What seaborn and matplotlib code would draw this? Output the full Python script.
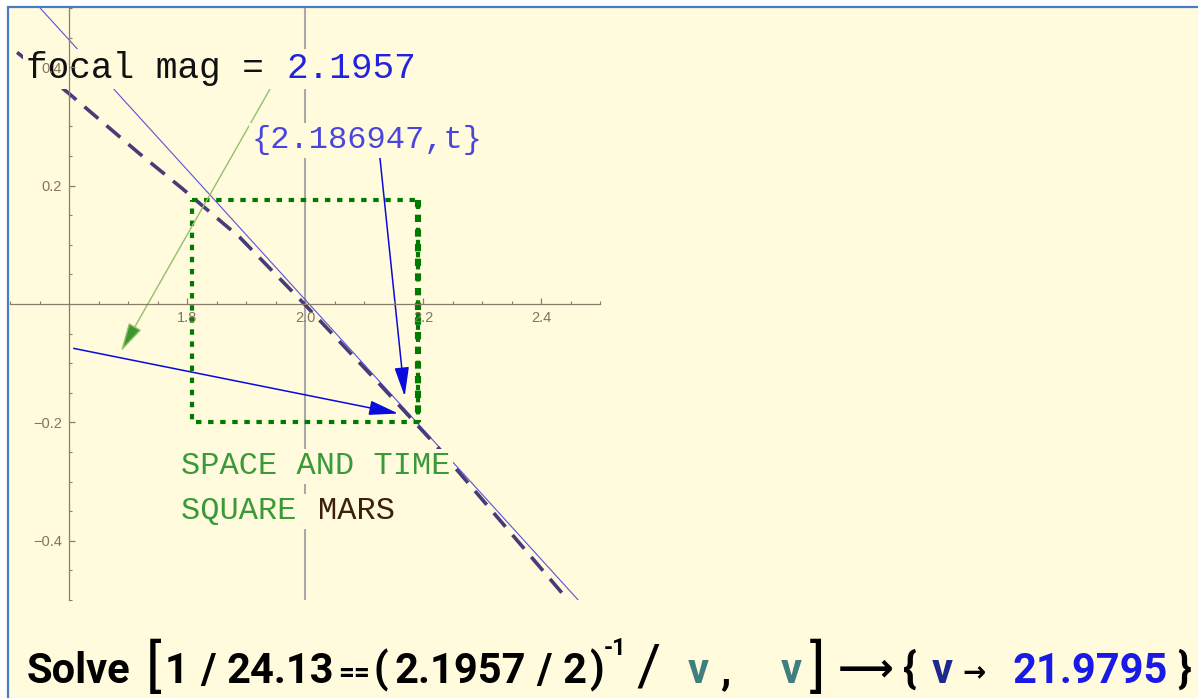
import matplotlib
matplotlib.use("Agg")
import matplotlib.pyplot as plt
import seaborn as sns
from matplotlib.patches import Rectangle
from matplotlib.ticker import FixedLocator

# Values
curve_x = [1.512, 1.597, 1.717, 1.792, 1.890, 1.997, 2.127, 2.224, 2.444]
curve_y = [0.425, 0.358, 0.256, 0.195, 0.112, 0.002, -0.136, -0.241, -0.498]
tangent_x = [1.551, 2.463]
tangent_y = [0.5, -0.5]
square_x = [1.808, 2.192, 2.192, 1.808, 1.808]
square_y = [0.175, 0.175, -0.2, -0.2, 0.175]
grid_x = 2.0
x_ticks = [1.8, 2.0, 2.2, 2.4]
y_ticks = [-0.4, -0.2, 0.2, 0.4]
green_arrow = [(1.944, 0.369), (1.688, -0.080)]
blue_arrow_1 = [(1.608, -0.075), (2.158, -0.185)]
blue_arrow_2 = [(2.127, 0.247), (2.169, -0.156)]
focal_mag = "2.1957"
point_label = "{2.186947,t}"

BG = "#fffbdc"
AXIS = "#8b7d6b"

sns.set_style("ticks")
plt.rcParams["font.family"] = ["Liberation Sans", "DejaVu Sans"]

fig = plt.figure(figsize=(11.98, 6.98), dpi=100)
fig.patch.set_facecolor("white")
fig.patches.append(Rectangle((8 / 1198, -0.1), 1.2, 0.1 + 691 / 698,
                             transform=fig.transFigure, facecolor=BG,
                             edgecolor="#4a7cc4", linewidth=1.6, zorder=-10))

ax = fig.add_axes([10 / 1198, 98 / 698, 590 / 1198, 592 / 698])
ax.set_facecolor("none")
ax.set_xlim(1.5, 2.5)
ax.set_ylim(-0.5, 0.5)

# Mathematica style axes crossing at (1.6, 0)
ax.spines["top"].set_visible(False)
ax.spines["right"].set_visible(False)
ax.spines["bottom"].set_position(("data", 0))
ax.spines["left"].set_position(("data", 1.6))
for s in ("bottom", "left"):
    ax.spines[s].set_color(AXIS)
    ax.spines[s].set_linewidth(0.9)
ax.set_axisbelow(False)
ax.xaxis.set_major_locator(FixedLocator(x_ticks))
ax.yaxis.set_major_locator(FixedLocator(y_ticks))
minor = [round(1.5 + 0.05 * i, 2) for i in range(21)]
ax.xaxis.set_minor_locator(FixedLocator([v for v in minor if v not in x_ticks + [1.6]]))
ax.yaxis.set_minor_locator(FixedLocator([round(-0.5 + 0.05 * i, 2) for i in range(21)
                                         if round(-0.5 + 0.05 * i, 2) not in y_ticks + [0.0]]))
ax.set_xticklabels([f"{v:.1f}" for v in x_ticks])
ax.set_yticklabels([f"{v:.1f}".replace("-", "\u2212") for v in y_ticks])
ax.tick_params(which="major", direction="in", length=4, width=0.9, color=AXIS,
               labelcolor="#86735e", labelsize=10.5, pad=5)
ax.tick_params(which="minor", direction="in", length=2.5, width=0.8, color=AXIS)

ax.axvline(grid_x, color="#a9a9a9", linewidth=1.5, zorder=1)

sns.lineplot(x=tangent_x, y=tangent_y, sort=False, estimator=None, ax=ax,
             color="#5a52dc", linewidth=0.8, zorder=2)
sns.lineplot(x=curve_x, y=curve_y, sort=False, estimator=None, ax=ax,
             color="#473b78", linewidth=2.6, linestyle=(0, (5, 3)), zorder=2)
sns.lineplot(x=square_x, y=square_y, sort=False, estimator=None, ax=ax,
             color="#007a00", linewidth=3.0, linestyle=(0, (1.3, 1.6)), zorder=2)
sns.lineplot(x=square_x[1:3], y=square_y[1:3], sort=False, estimator=None, ax=ax,
             color="#007a00", linewidth=4.4, linestyle=(0, (1.2, 1.2)), zorder=2)

head = "-|>,head_length=1.8,head_width=0.45"
ax.annotate("", xy=green_arrow[1], xytext=green_arrow[0],
            arrowprops=dict(arrowstyle=head, ec="#93c070", fc="#3f9630", lw=1,
                            mutation_scale=10, shrinkA=0, shrinkB=0), zorder=2)
for arr in (blue_arrow_1, blue_arrow_2):
    ax.annotate("", xy=arr[1], xytext=arr[0],
                arrowprops=dict(arrowstyle=head, color="#0a0adc", lw=1.1,
                                mutation_scale=10, shrinkA=0, shrinkB=0), zorder=2)

box = dict(boxstyle="square,pad=0.08", facecolor=BG, edgecolor="none")
mono = ["Liberation Mono", "DejaVu Sans Mono"]
ax.text(1.527, 0.381, "focal mag = ", family=mono, fontsize=26, color="#111111",
        va="baseline", bbox=box, zorder=2.3)
ax.text(1.969, 0.381, focal_mag, family=mono, fontsize=26, color="#2323dd",
        va="baseline", bbox=box, zorder=2.3)
ax.text(1.910, 0.263, point_label, family=mono, fontsize=23, color="#4b45e0",
        va="baseline", bbox=box, zorder=2.3)
ax.text(1.790, -0.288, "SPACE AND TIME", family=mono, fontsize=23, color="#3a9a3a",
        va="baseline", bbox=box, zorder=2.3)
ax.text(1.790, -0.364, "SQUARE ", family=mono, fontsize=23, color="#3a9a3a",
        va="baseline", bbox=box, zorder=2.3)
ax.text(2.022, -0.364, "MARS", family=mono, fontsize=23, color="#3b1f0f",
        va="baseline", bbox=box, zorder=2.3)

# Solve[...] line under the plot, pieces placed at pixel positions
base = 683
big = base + 2
pieces = [
    ("Solve", 27, base, 30, "bold", "black"),
    ("[", 146, big, 42, "normal", "black"),
    ("1", 165, base, 30, "bold", "black"),
    ("/", 200, base, 30, "bold", "black"),
    ("24.13", 226, base, 30, "bold", "black"),
    ("==", 338, base - 2, 20, "bold", "black"),
    ("(", 374, base, 30, "bold", "black"),
    ("2.1957", 394, base, 30, "bold", "black"),
    ("/", 536, base, 30, "bold", "black"),
    ("2", 563, base, 30, "bold", "black"),
    (")", 589, base, 30, "bold", "black"),
    ("-1", 604, base - 28, 17, "bold", "black"),
    ("/", 636, big, 42, "normal", "black"),
    ("v", 688, base, 30, "bold", "#3f7f7f"),
    (",", 720, base, 30, "bold", "black"),
    ("v", 781, base, 30, "bold", "#3f7f7f"),
    ("]", 810, big, 42, "normal", "black"),
    ("\u27f6", 838, base - 3, 28, "bold", "black"),
    ("{", 903, base, 30, "bold", "black"),
    ("v", 932, base, 30, "bold", "#1c2a8f"),
    ("\u2192", 962, base - 2, 20, "bold", "black"),
    ("21.9795", 1012, base, 30, "bold", "#1a1ae6"),
    ("}", 1177, base, 30, "bold", "black"),
]
for txt, px, py, size, weight, color in pieces:
    fig.text(px / 1198, 1 - py / 698, txt, fontsize=size, fontweight=weight,
             color=color, family=["Roboto", "DejaVu Sans"], va="baseline", ha="left")

fig.savefig("out.png", dpi=100)
